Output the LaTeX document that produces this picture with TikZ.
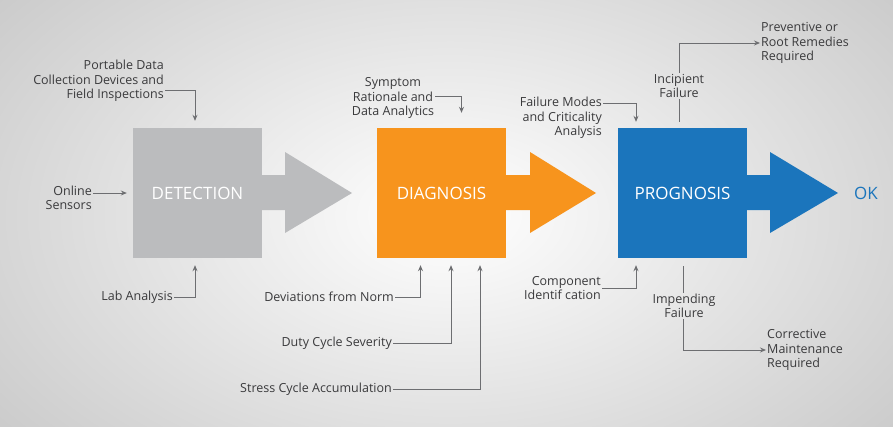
\documentclass[tikz,border=0pt]{standalone}
\usepackage{fontspec}
\setmainfont{Open Sans}
\usetikzlibrary{arrows.meta}
\definecolor{detgrey}{HTML}{BBBCBE}
\definecolor{diaorange}{HTML}{F7941D}
\definecolor{problue}{HTML}{1B75BC}
\definecolor{linegrey}{HTML}{6D6E71}
\definecolor{txtgrey}{HTML}{3A3A3C}
\tikzset{
  stage/.style={minimum width=129pt, minimum height=130pt, inner sep=0pt, text=white, font=\fontsize{17}{17}\selectfont},
  lbl/.style={text=txtgrey, font=\fontsize{12.5}{14.5}\selectfont, inner sep=1pt},
  feed/.style={draw=linegrey, line width=0.9pt, -{Stealth[length=6pt,width=5pt]}},
  link/.style={draw=linegrey, line width=0.9pt}
}
\begin{document}
\begin{tikzpicture}[x=1pt, y=-1pt]
    % background
    \useasboundingbox (0,0) rectangle (893,426);
    \shade[inner color=white, outer color=gray!50] (-250,-220) rectangle (1150,650);

    % stage boxes and big arrows
    \draw[fill=detgrey, draw=none] (262,175) -- (285,175) -- (285,152) -- (352,193) -- (285,233) -- (285,210) -- (262,210) -- cycle;
    \draw[fill=diaorange, draw=none] (506,175) -- (530,175) -- (530,152) -- (596,193) -- (530,233) -- (530,210) -- (506,210) -- cycle;
    \draw[fill=problue, draw=none] (747,175) -- (770,175) -- (770,152) -- (838,193) -- (770,233) -- (770,210) -- (747,210) -- cycle;
    \node[stage, fill=detgrey] (det) at (197.5,193) {DETECTION};
    \node[stage, fill=diaorange] (dia) at (441.5,193) {DIAGNOSIS};
    \node[stage, fill=problue] (pro) at (682.5,193) {PROGNOSIS};
    \node[text=problue, font=\fontsize{17}{17}\selectfont] (ok) at (866,193) {OK};

    % detection inputs
    \node[lbl, align=right, anchor=east] (port) at (165,81) {Portable Data\\Collection Devices and\\Field Inspections};
    \node[lbl, align=right, anchor=east] (online) at (93,198) {Online\\Sensors};
    \node[lbl, anchor=east] (lab) at (174,297) {Lab Analysis};
    \draw[feed] (port.east |- 0,90) -| ([xshift=-2.5pt,yshift=7pt]det.north);
    \draw[feed] (online.east |- det.west) -- ([xshift=-6pt]det.west);
    \draw[feed] (lab.east) -| ([xshift=-2.5pt,yshift=-7pt]det.south);

    % diagnosis inputs
    \node[lbl, align=center] (sym) at (393,98) {Symptom\\Rationale and\\Data Analytics};
    \node[lbl, anchor=east] (dev) at (395,297) {Deviations from Norm};
    \node[lbl, anchor=east] (duty) at (393,343) {Duty Cycle Severity};
    \node[lbl, anchor=east] (stress) at (393,389) {Stress Cycle Accumulation};
    \draw[feed] (sym.east |- 0,96) -| ([xshift=20pt,yshift=15pt]dia.north);
    \draw[feed] (dev.east) -| ([xshift=-21pt,yshift=-7pt]dia.south);
    \draw[feed] (duty.east) -| ([xshift=9.5pt,yshift=-7pt]dia.south);
    \draw[feed] (stress.east) -| ([xshift=38.5pt,yshift=-7pt]dia.south);

    % prognosis inputs and outcomes
    \node[lbl, align=right, anchor=east] (fmeca) at (603,118) {Failure Modes\\and Criticality\\Analysis};
    \node[lbl, align=right, anchor=east] (comp) at (602,288) {Component\\Identif cation};
    \draw[feed] (fmeca.north east |- 0,103) -| ([xshift=-46.5pt,yshift=6pt]pro.north);
    \draw[feed] (comp.east) -| ([xshift=-46.5pt,yshift=-7pt]pro.south);
    \node[lbl, align=center] (incip) at (679,86) {Incipient\\Failure};
    \node[lbl, align=left, anchor=west] (prev) at (760,43) {Preventive or\\Root Remedies\\Required};
    \node[lbl, align=center] (impend) at (684,306) {Impending\\Failure};
    \node[lbl, align=left, anchor=west] (corr) at (766,350) {Corrective\\Maintenance\\Required};
    \draw[link] ([xshift=-3.5pt,yshift=6pt]pro.north) -- (incip.south -| 679,0);
    \draw[feed] (incip.north -| 679,0) |- (prev.west);
    \draw[link] ([xshift=0.5pt,yshift=-8pt]pro.south) -- (impend.north -| 683,0);
    \draw[feed] (impend.south -| 683,0) |- (corr.west);
\end{tikzpicture}
\end{document}
